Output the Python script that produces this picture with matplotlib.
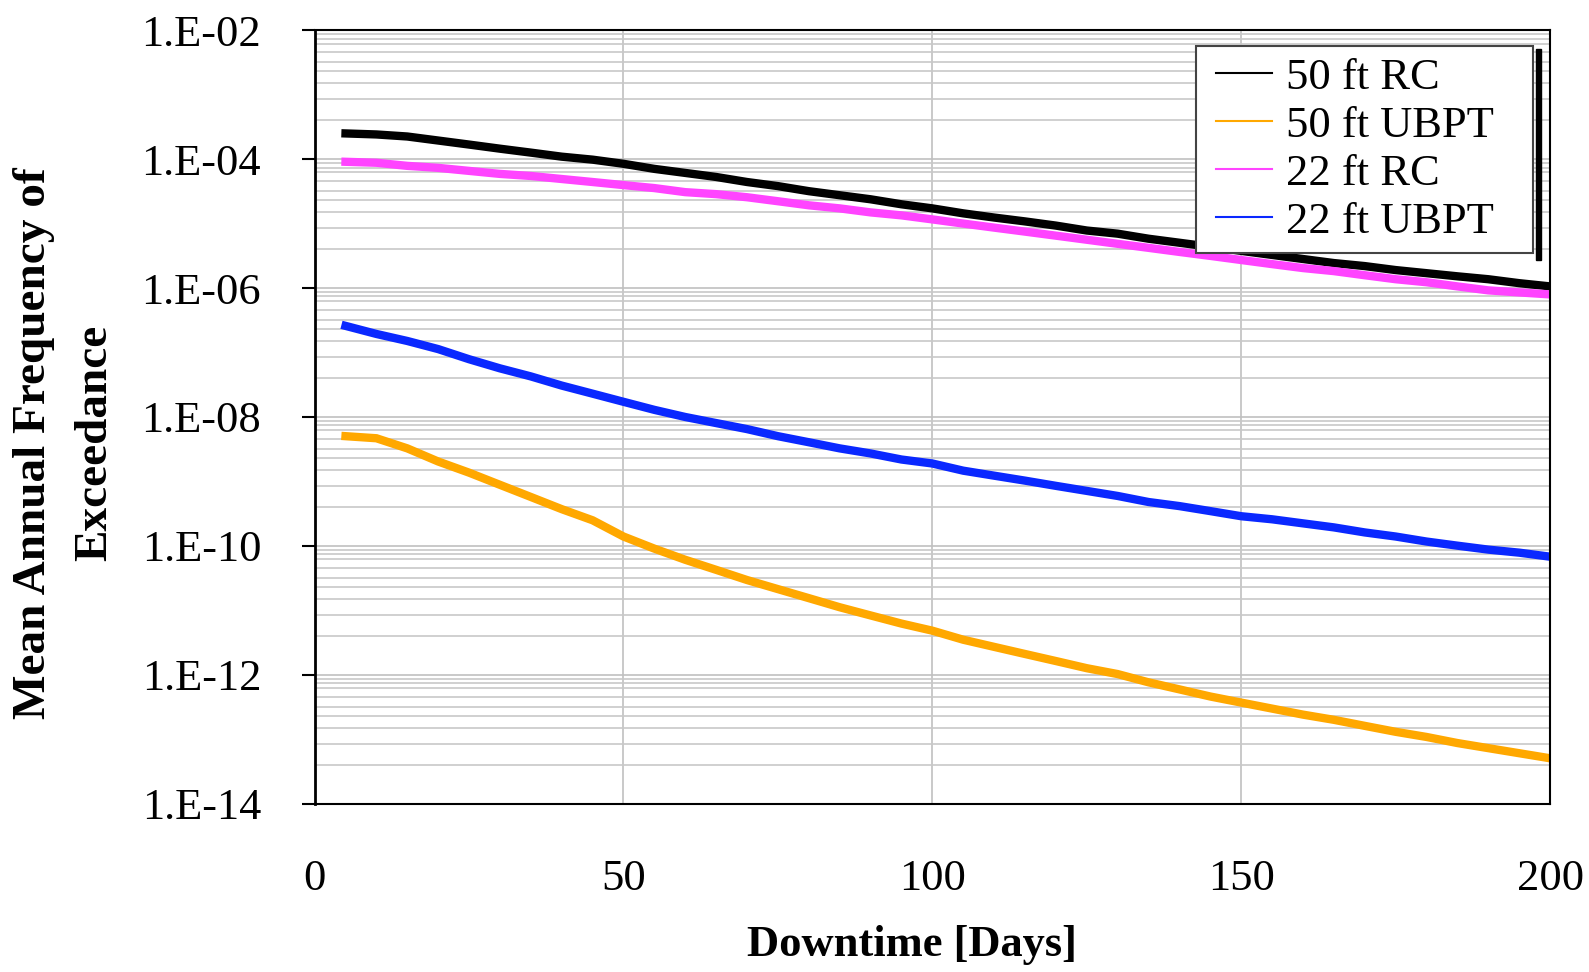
import matplotlib
matplotlib.use("Agg")
import matplotlib.pyplot as plt
import numpy as np
from matplotlib.legend_handler import HandlerLine2D
from matplotlib.lines import Line2D
from matplotlib.patches import Rectangle
from matplotlib.ticker import FixedLocator, FuncFormatter, NullFormatter
from matplotlib.transforms import IdentityTransform

plt.rcParams["font.family"] = ["Liberation Serif", "DejaVu Serif"]

downtime = [5, 10, 15, 20, 25, 30, 35, 40, 45, 50, 55, 60, 65, 70, 75, 80, 85, 90, 95, 100,
            105, 110, 115, 120, 125, 130, 135, 140, 145, 150, 155, 160, 165, 170, 175, 180,
            185, 190, 195, 200]

rc_50 = [2.50e-4, 2.41e-4, 2.24e-4, 1.94e-4, 1.68e-4, 1.45e-4, 1.26e-4, 1.09e-4, 9.8e-5, 8.45e-5,
         7.05e-5, 6.1e-5, 5.28e-5, 4.41e-5, 3.81e-5, 3.18e-5, 2.75e-5, 2.38e-5, 1.99e-5, 1.72e-5,
         1.44e-5, 1.24e-5, 1.08e-5, 9.3e-6, 7.8e-6, 6.97e-6, 5.82e-6, 5.04e-6, 4.36e-6, 3.77e-6,
         3.26e-6, 2.82e-6, 2.44e-6, 2.19e-6, 1.90e-6, 1.70e-6, 1.52e-6, 1.37e-6, 1.19e-6, 1.06e-6]

ubpt_50 = [5.04e-9, 4.68e-9, 3.26e-9, 2.04e-9, 1.37e-9, 8.87e-10, 5.75e-10, 3.72e-10, 2.50e-10, 1.40e-10,
           9.08e-11, 6.1e-11, 4.26e-11, 2.96e-11, 2.14e-11, 1.55e-11, 1.12e-11, 8.36e-12, 6.25e-12, 4.85e-12,
           3.51e-12, 2.72e-12, 2.11e-12, 1.64e-12, 1.27e-12, 1.03e-12, 7.67e-13, 5.96e-13, 4.62e-13, 3.72e-13,
           3.0e-13, 2.42e-13, 2.01e-13, 1.62e-13, 1.31e-13, 1.09e-13, 8.77e-14, 7.31e-14, 6.1e-14, 5.09e-14]

rc_22 = [9.08e-5, 8.77e-5, 7.85e-5, 7.31e-5, 6.56e-5, 5.89e-5, 5.47e-5, 4.91e-5, 4.41e-5, 3.95e-5,
         3.55e-5, 3.07e-5, 2.86e-5, 2.56e-5, 2.22e-5, 1.92e-5, 1.72e-5, 1.49e-5, 1.34e-5, 1.16e-5,
         1.0e-5, 8.65e-6, 7.5e-6, 6.49e-6, 5.61e-6, 4.85e-6, 4.2e-6, 3.63e-6, 3.15e-6, 2.72e-6,
         2.35e-6, 2.04e-6, 1.83e-6, 1.58e-6, 1.37e-6, 1.23e-6, 1.06e-6, 9.2e-7, 8.55e-7, 7.96e-7]

ubpt_22 = [2.59e-7, 1.94e-7, 1.51e-7, 1.13e-7, 7.87e-8, 5.68e-8, 4.26e-8, 3.07e-8, 2.30e-8, 1.72e-8,
           1.29e-8, 1.0e-8, 8.05e-9, 6.49e-9, 5.04e-9, 4.06e-9, 3.26e-9, 2.72e-9, 2.19e-9, 1.90e-9,
           1.47e-9, 1.23e-9, 1.03e-9, 8.55e-10, 7.14e-10, 5.96e-10, 4.8e-10, 4.15e-10, 3.47e-10, 2.89e-10,
           2.59e-10, 2.24e-10, 1.94e-10, 1.62e-10, 1.40e-10, 1.17e-10, 1.01e-10, 8.77e-11, 7.87e-11, 6.81e-11]

SERIES = [
    ("50 ft RC", rc_50, "#000000"),
    ("50 ft UBPT", ubpt_50, "#FFA800"),
    ("22 ft RC", rc_22, "#FF44FF"),
    ("22 ft UBPT", ubpt_22, "#0A28FF"),
]

major_exps = [-14, -12, -10, -8, -6, -4, -2]
# minor grid positions as seen in the original, per two-decade step
minor_mult = [4, 8.5, 15, 23, 32, 45, 62, 74, 87]

fig = plt.figure(figsize=(15.89, 9.72), dpi=100)
ax = fig.add_axes([0.198, 0.173, 0.7775, 0.796])

for name, vals, color in SERIES:
    ax.plot(downtime, vals, color=color, lw=6, label=name, solid_joinstyle="miter")

ax.set_yscale("log")
ax.set_xlim(0, 200)
ax.set_ylim(1e-14, 1e-2)

ax.yaxis.set_major_locator(FixedLocator([10.0 ** e for e in major_exps]))
minors = [m * 10.0 ** e for e in major_exps[:-1] for m in minor_mult]
ax.yaxis.set_minor_locator(FixedLocator(minors))
ax.yaxis.set_minor_formatter(NullFormatter())
ax.yaxis.set_major_formatter(FuncFormatter(lambda v, p: "1.E%03d" % int(round(np.log10(v)))))
ax.set_xticks([0, 50, 100, 150, 200])

ax.tick_params(axis="y", which="major", labelsize=32, length=9.5, width=1.5, pad=29, direction="out")
ax.tick_params(axis="y", which="minor", length=0)
ax.tick_params(axis="x", labelsize=32, length=0, pad=40)

ax.grid(True, which="major", color="#c0c0c0", lw=1.2)
ax.grid(True, which="minor", axis="y", color="#c8c8c8", lw=1.2)
ax.set_axisbelow(True)

for s in ax.spines.values():
    s.set_color("black")
    s.set_linewidth(1.5)
ax.spines["left"].set_linewidth(2)

ax.set_xlabel("Downtime [Days]", fontsize=32, fontweight="bold")
ax.xaxis.set_label_coords(0.4836, -0.1565)
ax.set_ylabel("Mean Annual Frequency of\nExceedance", fontsize=34, fontweight="bold",
              linespacing=1.6)
ax.yaxis.set_label_coords(-0.161, 0.466)

leg = ax.legend(loc="upper right", bbox_to_anchor=(0.7134, 0.0, 0.2729, 0.979), mode="expand",
                borderaxespad=0, fontsize=32, fancybox=False, framealpha=1, edgecolor="#444444",
                handlelength=1.465, handletextpad=0.31, labelspacing=0.18, borderpad=0.25,
                handler_map={Line2D: HandlerLine2D(xpad=0.205)})
leg.get_frame().set_linewidth(1.5)
for h in leg.get_lines():
    h.set_linewidth(1.5)

# black bar along the right side of the legend box
fig.canvas.draw()
bb = leg.get_window_extent()
fig.add_artist(Rectangle((bb.x1 + 3, bb.y0 - 7), 5, bb.height + 4,
                         transform=IdentityTransform(), color="black", zorder=10))

fig.savefig("out.png", dpi=100)
